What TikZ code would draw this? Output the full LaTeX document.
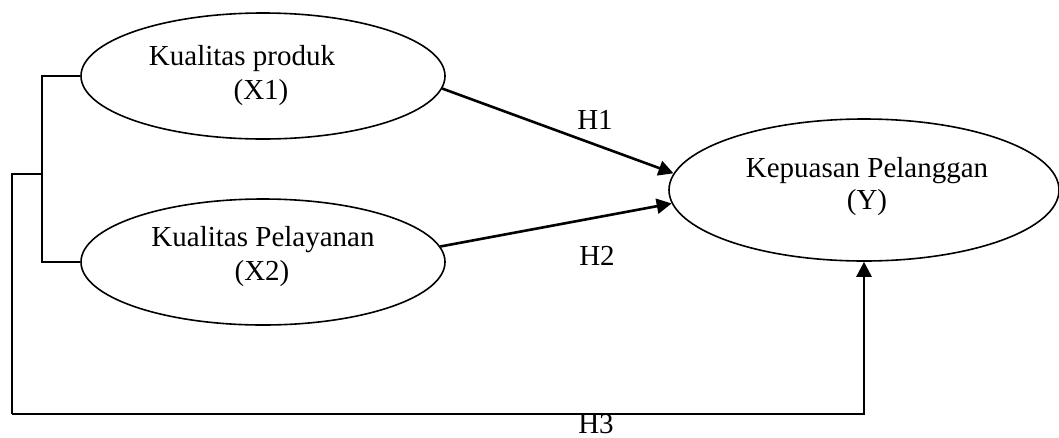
\documentclass[tikz,border=0pt]{standalone}
\usepackage{fontspec}
\setmainfont{Liberation Serif}
\usetikzlibrary{shapes.geometric,arrows.meta}
\begin{document}
\begin{tikzpicture}[x=1pt,y=-1pt,
  var/.style={draw,ellipse,line width=1.6pt,inner sep=0pt},
  lbl/.style={font=\fontsize{29}{32}\selectfont,inner sep=0pt,anchor=base},
  path/.style={line width=2.6pt,-{Triangle[length=15pt,width=15pt]}},
  link/.style={line width=1.5pt}]
\useasboundingbox (0,0) rectangle (1059,437);
% latent variables
\node[var,minimum width=364pt,minimum height=126pt] (x1) at (263,76) {};
\node[var,minimum width=364pt,minimum height=126pt] (x2) at (263,262) {};
\node[var,minimum width=390pt,minimum height=142pt] (y) at (864,190) {};
% variable names
\node[lbl] (t1) at (242,65) {Kualitas produk};
\node[lbl] (t1b) at (261,99) {(X1)};
\node[lbl] (t2) at (263,246) {Kualitas Pelayanan};
\node[lbl] (t2b) at (262,280) {(X2)};
\node[lbl] (t3) at (867,177) {Kepuasan Pelanggan};
\node[lbl] (t3b) at (867,209) {(Y)};
% hypothesis labels
\node[lbl] (h1) at (595,129) {H1};
\node[lbl] (h2) at (597,265) {H2};
\node[lbl] (h3) at (596,433) {H3};
% direct paths
\draw[path] (x1.-4.5) -- (y.175);
\draw[path] (x2.5.5) -- (y.184);
% joint path through the bracket
\coordinate (j) at (42,174);
\coordinate (c) at (12,174);
\coordinate (b) at (12,414);
\draw[link] (x1.west) -| (j) |- (x2.west);
\draw[link] (j) -- (c) -- (b);
\draw[path] (b) -| (y.south);
\end{tikzpicture}
\end{document}
